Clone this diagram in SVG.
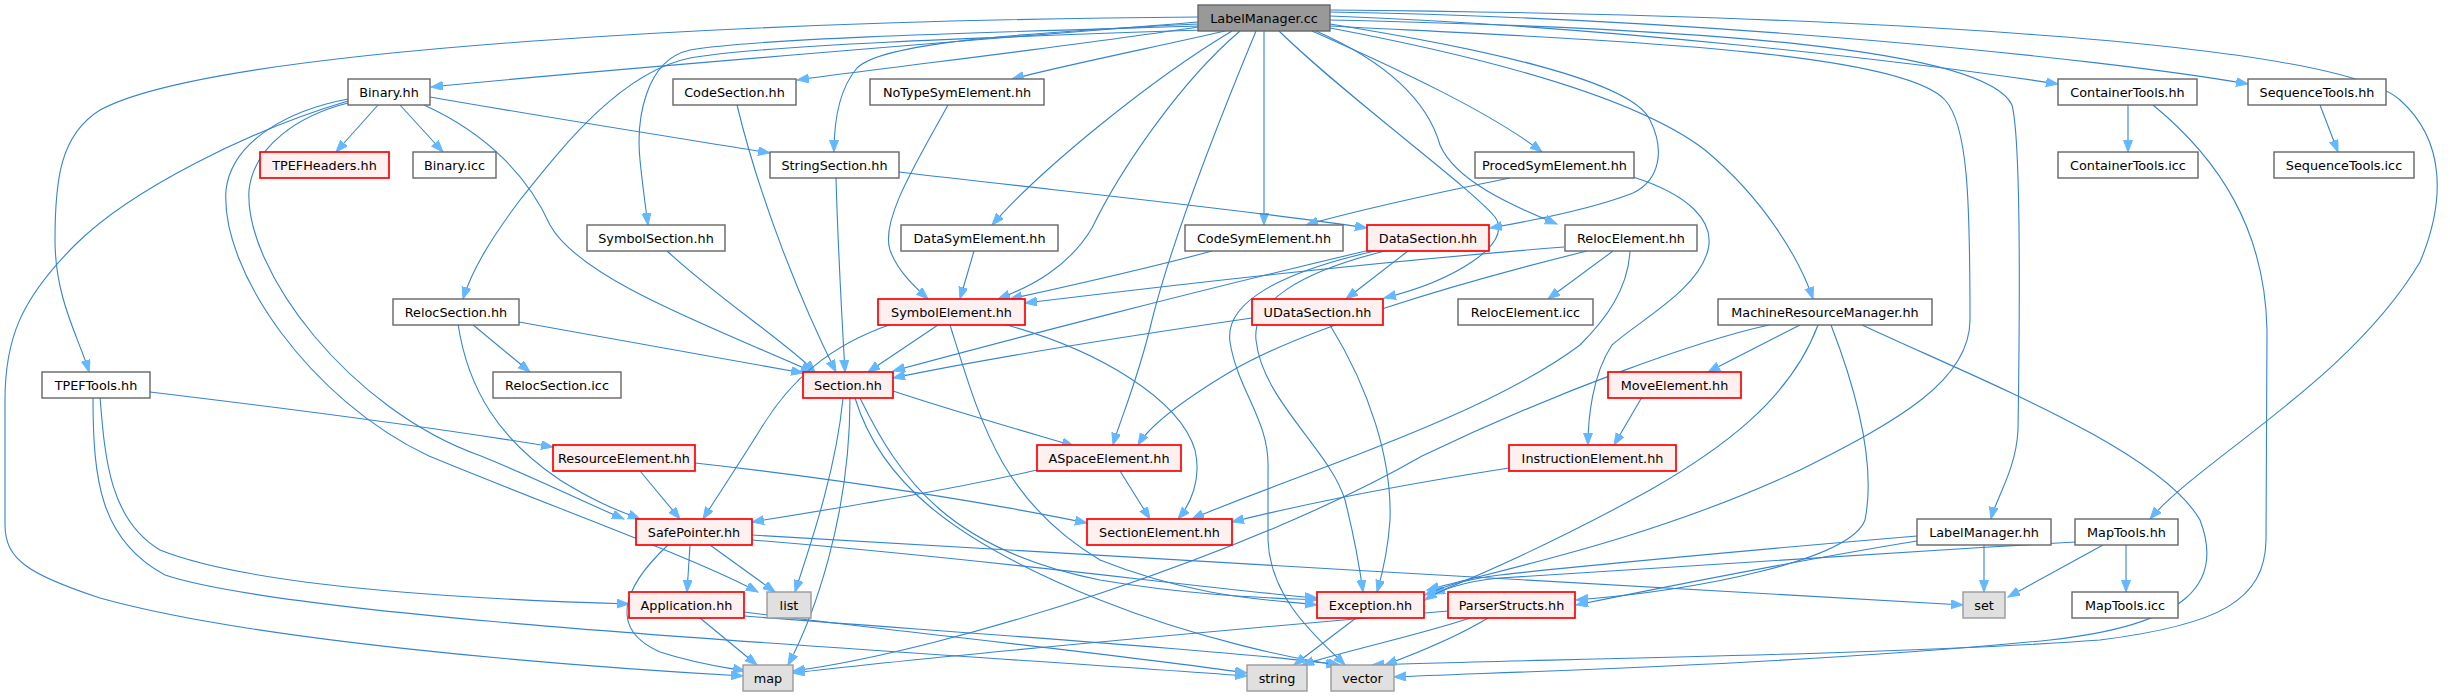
<svg xmlns="http://www.w3.org/2000/svg" width="2450" height="696" viewBox="0 0 2450 696">
<style>
rect{stroke-width:1.4}
.n rect{fill:#ffffff;stroke:#666666}
.r rect{fill:#fff0f0;stroke:#ff0000;stroke-width:1.7}
.g rect{fill:#e0e0e0;stroke:#999999}
.root rect{fill:#999999;stroke:#666666}
text{font-family:"DejaVu Sans","Liberation Sans",sans-serif;font-size:12.8px;text-anchor:middle;fill:#000000}
#edges path{fill:none;stroke:#3584cf;stroke-width:1.1;marker-end:url(#arr)}
</style>
<defs>
<marker id="arr" markerUnits="userSpaceOnUse" markerWidth="14" markerHeight="10" refX="12" refY="4.5" orient="auto">
<path d="M0,0 L12,4.5 L0,9 Z" fill="#63b8ff" stroke="#63b8ff" stroke-width="1"/>
</marker>
</defs>
<rect x="0" y="0" width="2450" height="696" fill="#ffffff"/>
<g id="edges">
<path d="M1198,22 C1000,38 620,68 431,87"/>
<path d="M1198,27 C1080,45 900,66 797,80"/>
<path d="M1225,31 C1160,46 1070,64 1012,79"/>
<path d="M1198,24 C1010,33 880,44 857,68 C840,88 834,120 834,152"/>
<path d="M1198,26 C1000,32 760,38 690,50 C645,60 636,120 640,160 C643,190 646,210 648,225"/>
<path d="M1200,30 C1000,37 760,45 690,58 C620,72 560,150 520,200 C490,240 472,270 463,299"/>
<path d="M1198,17 C800,20 220,45 100,110 C60,135 55,180 55,240 C55,300 80,340 89,372"/>
<path d="M1232,31 C1150,80 1040,170 992,225"/>
<path d="M1240,31 C1180,82 1120,170 1092,228 C1068,268 1030,287 998,299"/>
<path d="M1264,31 L1264,225"/>
<path d="M1256,31 C1215,130 1172,240 1152,320 C1138,380 1120,420 1113,445"/>
<path d="M1279,31 C1350,100 1468,185 1495,217 C1515,245 1450,282 1384,298"/>
<path d="M1330,24 C1480,48 1632,80 1650,120 C1665,150 1660,180 1633,193 C1590,210 1530,221 1490,228"/>
<path d="M1312,31 C1400,70 1490,112 1542,152"/>
<path d="M1316,31 C1400,68 1430,110 1440,145 C1455,180 1510,205 1557,224"/>
<path d="M1330,28 C1500,60 1640,100 1705,150 C1765,200 1800,260 1813,299"/>
<path d="M1330,16 C1600,26 1900,60 2058,84"/>
<path d="M1330,12 C1700,18 2100,58 2248,84"/>
<path d="M1330,20 C1700,28 1985,48 2012,105 C2021,140 2020,300 2018,430 C2016,470 1996,498 1991,519"/>
<path d="M1330,10 C1800,14 2330,38 2400,100 C2445,140 2446,200 2420,262 C2350,380 2200,460 2150,519"/>
<path d="M1330,26 C1600,40 1900,50 1945,100 C1968,125 1970,200 1970,320 C1970,380 1900,420 1800,470 C1650,540 1500,570 1427,590"/>
<path d="M378,105 L336,152"/>
<path d="M400,105 L443,152"/>
<path d="M430,97 C550,118 690,140 770,153"/>
<path d="M424,105 C490,135 530,180 550,225 C580,280 720,330 813,372"/>
<path d="M348,101 C250,130 130,190 75,245 C20,300 5,340 5,400 L5,525 C5,560 30,575 100,598 C250,640 550,665 743,676"/>
<path d="M348,99 C290,110 232,140 226,190 C220,270 310,400 429,456 C560,510 700,560 758,592"/>
<path d="M348,103 C300,115 254,145 249,190 C244,270 350,410 481,456 C540,480 590,505 624,519"/>
<path d="M150,392 C300,410 450,430 553,447"/>
<path d="M100,397 C105,460 110,520 160,550 C260,590 500,600 629,604"/>
<path d="M93,397 C93,480 100,540 165,575 C300,620 900,650 1247,676"/>
<path d="M472,324 L530,372"/>
<path d="M519,322 C620,340 720,358 803,373"/>
<path d="M458,324 C468,390 500,440 560,480 C600,505 625,513 640,519"/>
<path d="M667,251 C720,300 790,345 815,372"/>
<path d="M737,105 C760,200 800,300 836,372"/>
<path d="M836,178 C838,250 842,320 845,372"/>
<path d="M899,172 C1050,190 1250,210 1367,228"/>
<path d="M948,105 C918,160 880,220 890,250 C898,272 915,287 928,299"/>
<path d="M974,251 L960,299"/>
<path d="M1212,251 C1150,268 1060,288 1010,299"/>
<path d="M1510,178 C1420,196 1340,215 1306,225"/>
<path d="M1633,177 C1690,195 1715,222 1708,250 C1698,290 1640,320 1612,345 C1592,375 1588,420 1588,445"/>
<path d="M1408,251 L1346,299"/>
<path d="M1370,250 C1200,290 1000,342 893,371"/>
<path d="M1385,251 C1300,272 1252,302 1256,340 C1262,400 1330,450 1345,500 C1355,540 1360,570 1363,592"/>
<path d="M1375,251 C1282,272 1224,302 1230,342 C1238,392 1270,420 1268,470 L1268,540 C1270,600 1320,640 1345,665"/>
<path d="M1613,251 L1548,299"/>
<path d="M1564,247 C1350,264 1150,288 1025,303"/>
<path d="M1587,251 C1450,285 1300,330 1230,372 C1180,402 1150,425 1138,445"/>
<path d="M1630,251 C1628,290 1605,320 1580,345 C1480,420 1280,480 1192,519"/>
<path d="M1252,318 C1100,340 980,360 893,378"/>
<path d="M1330,325 C1370,390 1392,460 1390,520 C1388,550 1382,575 1377,592"/>
<path d="M938,325 L868,372"/>
<path d="M892,324 C830,345 790,380 760,430 C735,470 715,500 703,519"/>
<path d="M1003,324 C1100,350 1180,400 1195,450 C1202,480 1190,505 1178,519"/>
<path d="M950,325 C980,420 1000,500 1100,560 C1200,600 1280,600 1317,605"/>
<path d="M1800,325 L1708,372"/>
<path d="M1769,325 C1700,340 1560,390 1422,456 C1250,555 950,650 793,671"/>
<path d="M1818,325 C1790,400 1720,450 1650,490 C1550,545 1480,575 1433,594"/>
<path d="M1831,325 C1860,400 1875,470 1865,520 C1850,560 1700,590 1576,600"/>
<path d="M1862,325 C1980,380 2160,450 2200,520 C2225,585 2185,625 2050,640 C1800,665 1500,672 1394,677"/>
<path d="M1642,397 L1614,445"/>
<path d="M2128,105 L2128,152"/>
<path d="M2153,105 C2220,160 2265,230 2267,330 L2266,540 C2265,600 2220,625 2100,640 C1900,655 1500,660 1372,665"/>
<path d="M2320,105 L2338,152"/>
<path d="M893,391 C950,410 1020,430 1074,446"/>
<path d="M843,398 C836,470 812,540 795,592"/>
<path d="M850,398 C850,520 812,620 788,665"/>
<path d="M860,398 C900,480 950,550 1100,580 C1200,597 1280,598 1317,600"/>
<path d="M855,398 C880,480 950,540 1100,600 C1200,640 1300,660 1338,665"/>
<path d="M640,471 L680,519"/>
<path d="M695,463 C850,480 1000,505 1087,523"/>
<path d="M1037,470 C950,490 850,506 752,522"/>
<path d="M1120,471 L1150,519"/>
<path d="M1509,468 C1400,485 1300,505 1232,522"/>
<path d="M690,545 L687,592"/>
<path d="M710,545 L775,592"/>
<path d="M668,545 C620,590 610,630 660,652 C700,665 730,668 745,671"/>
<path d="M752,540 C1000,560 1200,588 1317,598"/>
<path d="M752,535 C1000,550 1700,590 1963,605"/>
<path d="M1984,545 L1984,592"/>
<path d="M1917,536 C1750,550 1560,568 1500,575 C1460,580 1440,588 1425,595"/>
<path d="M1917,541 C1800,560 1650,590 1576,605"/>
<path d="M2103,545 L2008,597"/>
<path d="M2126,545 L2126,592"/>
<path d="M2075,542 C1850,555 1600,570 1500,578 C1460,582 1440,590 1425,600"/>
<path d="M700,618 L757,665"/>
<path d="M744,612 C900,632 1100,652 1247,673"/>
<path d="M744,616 C950,632 1250,652 1340,665"/>
<path d="M1356,618 L1294,665"/>
<path d="M1470,618 C1420,635 1340,652 1302,665"/>
<path d="M1488,618 C1460,635 1420,652 1385,665"/>
<path d="M1448,611 C1200,632 900,660 793,673"/>
</g>
<g id="n_root" class="root"><rect x="1198" y="5" width="132" height="26"/><text x="1264" y="22.5">LabelManager.cc</text></g>
<g id="n_binary_hh" class="n"><rect x="348" y="79" width="82" height="26"/><text x="389" y="96.5">Binary.hh</text></g>
<g id="n_codesection" class="n"><rect x="673" y="79" width="123" height="26"/><text x="734.5" y="96.5">CodeSection.hh</text></g>
<g id="n_notypesym" class="n"><rect x="870" y="79" width="174" height="26"/><text x="957" y="96.5">NoTypeSymElement.hh</text></g>
<g id="n_containertools_hh" class="n"><rect x="2058" y="79" width="139" height="26"/><text x="2127.5" y="96.5">ContainerTools.hh</text></g>
<g id="n_sequencetools_hh" class="n"><rect x="2248" y="79" width="138" height="26"/><text x="2317" y="96.5">SequenceTools.hh</text></g>
<g id="n_tpefheaders" class="r"><rect x="260" y="152" width="129" height="26"/><text x="324.5" y="169.5">TPEFHeaders.hh</text></g>
<g id="n_binary_icc" class="n"><rect x="413" y="152" width="83" height="26"/><text x="454.5" y="169.5">Binary.icc</text></g>
<g id="n_stringsection" class="n"><rect x="770" y="152" width="129" height="26"/><text x="834.5" y="169.5">StringSection.hh</text></g>
<g id="n_procedsym" class="n"><rect x="1475" y="152" width="159" height="26"/><text x="1554.5" y="169.5">ProcedSymElement.hh</text></g>
<g id="n_containertools_icc" class="n"><rect x="2058" y="152" width="140" height="26"/><text x="2128" y="169.5">ContainerTools.icc</text></g>
<g id="n_sequencetools_icc" class="n"><rect x="2274" y="152" width="140" height="26"/><text x="2344" y="169.5">SequenceTools.icc</text></g>
<g id="n_symbolsection" class="n"><rect x="587" y="225" width="138" height="26"/><text x="656" y="242.5">SymbolSection.hh</text></g>
<g id="n_datasym" class="n"><rect x="901" y="225" width="157" height="26"/><text x="979.5" y="242.5">DataSymElement.hh</text></g>
<g id="n_codesym" class="n"><rect x="1185" y="225" width="158" height="26"/><text x="1264" y="242.5">CodeSymElement.hh</text></g>
<g id="n_datasection" class="r"><rect x="1367" y="225" width="122" height="26"/><text x="1428" y="242.5">DataSection.hh</text></g>
<g id="n_relocelement_hh" class="n"><rect x="1565" y="225" width="132" height="26"/><text x="1631" y="242.5">RelocElement.hh</text></g>
<g id="n_relocsection_hh" class="n"><rect x="393" y="299" width="126" height="26"/><text x="456" y="316.5">RelocSection.hh</text></g>
<g id="n_symbolelement" class="r"><rect x="878" y="299" width="147" height="26"/><text x="951.5" y="316.5">SymbolElement.hh</text></g>
<g id="n_udatasection" class="r"><rect x="1252" y="299" width="131" height="26"/><text x="1317.5" y="316.5">UDataSection.hh</text></g>
<g id="n_relocelement_icc" class="n"><rect x="1458" y="299" width="135" height="26"/><text x="1525.5" y="316.5">RelocElement.icc</text></g>
<g id="n_mrm" class="n"><rect x="1718" y="299" width="214" height="26"/><text x="1825" y="316.5">MachineResourceManager.hh</text></g>
<g id="n_tpeftools" class="n"><rect x="42" y="372" width="108" height="26"/><text x="96" y="389.5">TPEFTools.hh</text></g>
<g id="n_relocsection_icc" class="n"><rect x="493" y="372" width="128" height="26"/><text x="557" y="389.5">RelocSection.icc</text></g>
<g id="n_section" class="r"><rect x="803" y="372" width="90" height="26"/><text x="848" y="389.5">Section.hh</text></g>
<g id="n_moveelement" class="r"><rect x="1608" y="372" width="133" height="26"/><text x="1674.5" y="389.5">MoveElement.hh</text></g>
<g id="n_resourceelement" class="r"><rect x="553" y="445" width="142" height="26"/><text x="624" y="462.5">ResourceElement.hh</text></g>
<g id="n_aspaceelement" class="r"><rect x="1037" y="445" width="144" height="26"/><text x="1109" y="462.5">ASpaceElement.hh</text></g>
<g id="n_instructionelement" class="r"><rect x="1509" y="445" width="167" height="26"/><text x="1592.5" y="462.5">InstructionElement.hh</text></g>
<g id="n_safepointer" class="r"><rect x="636" y="519" width="116" height="26"/><text x="694" y="536.5">SafePointer.hh</text></g>
<g id="n_sectionelement" class="r"><rect x="1087" y="519" width="145" height="26"/><text x="1159.5" y="536.5">SectionElement.hh</text></g>
<g id="n_labelmanager_hh" class="n"><rect x="1917" y="519" width="134" height="26"/><text x="1984" y="536.5">LabelManager.hh</text></g>
<g id="n_maptools_hh" class="n"><rect x="2075" y="519" width="103" height="26"/><text x="2126.5" y="536.5">MapTools.hh</text></g>
<g id="n_application" class="r"><rect x="629" y="592" width="115" height="26"/><text x="686.5" y="609.5">Application.hh</text></g>
<g id="n_list" class="g"><rect x="767" y="592" width="44" height="26"/><text x="789" y="609.5">list</text></g>
<g id="n_exception" class="r"><rect x="1317" y="592" width="107" height="26"/><text x="1370.5" y="609.5">Exception.hh</text></g>
<g id="n_parserstructs" class="r"><rect x="1448" y="592" width="127" height="26"/><text x="1511.5" y="609.5">ParserStructs.hh</text></g>
<g id="n_set" class="g"><rect x="1963" y="592" width="42" height="26"/><text x="1984" y="609.5">set</text></g>
<g id="n_maptools_icc" class="n"><rect x="2072" y="592" width="106" height="26"/><text x="2125" y="609.5">MapTools.icc</text></g>
<g id="n_map" class="g"><rect x="743" y="665" width="50" height="26"/><text x="768" y="682.5">map</text></g>
<g id="n_string" class="g"><rect x="1247" y="665" width="60" height="26"/><text x="1277" y="682.5">string</text></g>
<g id="n_vector" class="g"><rect x="1331" y="665" width="63" height="26"/><text x="1362.5" y="682.5">vector</text></g>
</svg>
